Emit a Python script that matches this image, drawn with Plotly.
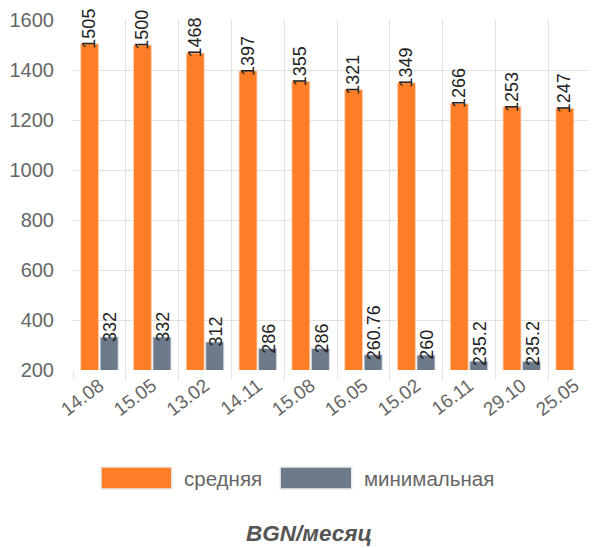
import plotly.graph_objects as go

categories = ["14.08", "15.05", "13.02", "14.11", "15.08", "16.05", "15.02", "16.11", "29.10", "25.05"]
avg_values = [1505, 1500, 1468, 1397, 1355, 1321, 1349, 1266, 1253, 1247]
min_values = [332, 332, 312, 286, 286, 260.76, 260, 235.2, 235.2, None]
series_names = ["средняя", "минимальная"]
y_ticks = [200, 400, 600, 800, 1000, 1200, 1400, 1600]
axis_title = "BGN/месяц"

ORANGE = "#fd7e27"
GRAY = "#6c7a89"
FONT = "Liberation Sans, Arial"

fig = go.Figure()
fig.add_trace(go.Bar(
    name=series_names[0], x=categories, y=avg_values,
    marker=dict(color=ORANGE, line=dict(color="rgba(255,215,190,0.9)", width=1)),
))
fig.add_trace(go.Bar(
    name=series_names[1], x=categories, y=min_values,
    marker=dict(color=GRAY, line=dict(color="rgba(215,220,228,0.9)", width=1)),
))

annotations = []
for i, v in enumerate(avg_values):
    if v is None:
        continue
    annotations.append(dict(x=i, y=v, xref="x", yref="y", text=f"{v:g}", showarrow=False,
                            textangle=-90, xanchor="center", yanchor="bottom",
                            xshift=-10.5, yshift=-7,
                            font=dict(family=FONT, size=18, color="#222")))
for i, v in enumerate(min_values):
    if v is None:
        continue
    annotations.append(dict(x=i, y=v, xref="x", yref="y", text=f"{v:g}", showarrow=False,
                            textangle=-90, xanchor="center", yanchor="bottom",
                            xshift=10.5, yshift=-7,
                            font=dict(family=FONT, size=18, color="#222")))

# custom legend (large swatches) in paper coordinates
shapes = [
    dict(type="rect", xref="paper", yref="paper", x0=0.0535, x1=0.189, y0=-0.34, y1=-0.277,
         fillcolor=ORANGE, line=dict(color="#ececec", width=1.5)),
    dict(type="rect", xref="paper", yref="paper", x0=0.396, x1=0.533, y0=-0.34, y1=-0.277,
         fillcolor=GRAY, line=dict(color="#ececec", width=1.5)),
]
annotations.append(dict(x=0.208, y=-0.309, xref="paper", yref="paper", text=series_names[0],
                        showarrow=False, xanchor="left", yanchor="middle",
                        font=dict(family=FONT, size=20.5, color="#666")))
annotations.append(dict(x=0.552, y=-0.309, xref="paper", yref="paper", text=series_names[1],
                        showarrow=False, xanchor="left", yanchor="middle",
                        font=dict(family=FONT, size=20.5, color="#666")))
annotations.append(dict(x=0.451, y=-0.466, xref="paper", yref="paper",
                        text=f"<b><i>{axis_title}</i></b>",
                        showarrow=False, xanchor="center", yanchor="middle",
                        font=dict(family=FONT, size=22.5, color="#555")))

# page body has an 8px default margin, so the figure is offset by 8px
fig.update_layout(
    width=588, height=540,
    margin=dict(l=65, r=0, t=12, b=178, autoexpand=False),
    paper_bgcolor="white", plot_bgcolor="white",
    barmode="group", bargap=0.26, bargroupgap=0.08,
    font=dict(family=FONT, color="#666"),
    showlegend=False,
    annotations=annotations,
    shapes=shapes,
)
fig.update_xaxes(
    type="category", tickson="boundaries", range=[-0.5, 9.405], automargin=False,
    showgrid=True, gridcolor="#e2e2e2", gridwidth=1,
    ticks="outside", ticklen=8, tickcolor="#e2e2e2",
    tickangle=-37, tickfont=dict(size=19, color="#666"),
    showline=False, zeroline=False,
)
fig.update_yaxes(
    range=[200, 1600], tickvals=y_ticks, automargin=False,
    showgrid=True, gridcolor="#e2e2e2", gridwidth=1,
    ticks="", ticklabelstandoff=18,
    tickfont=dict(size=20, color="#666"),
    showline=False, zeroline=False,
)

fig.write_html("out.html")
